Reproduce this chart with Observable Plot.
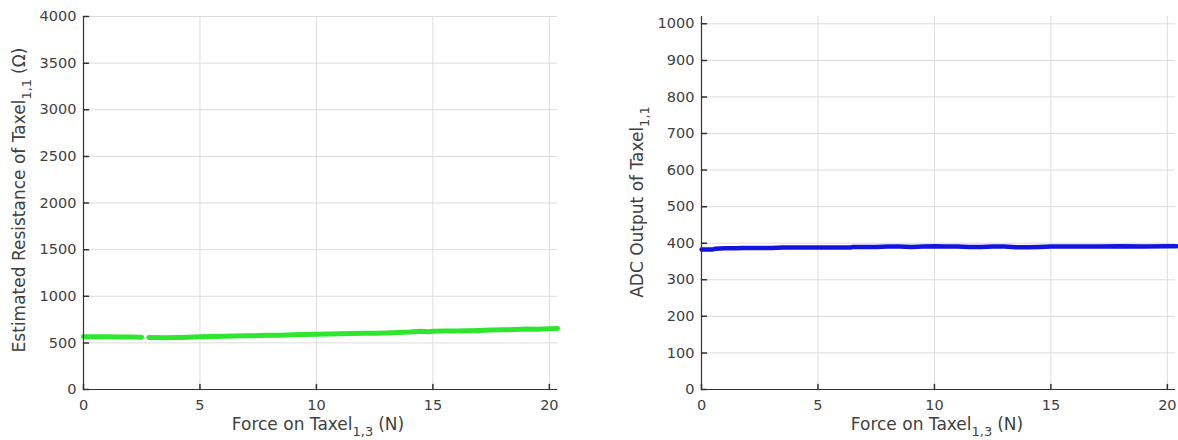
<!DOCTYPE html>
<html>
<head>
<meta charset="utf-8">
<script src="https://cdn.jsdelivr.net/npm/d3@7"></script>
<script src="https://cdn.jsdelivr.net/npm/@observablehq/plot@0.6"></script>
<style>
  body { margin: 0; background: #fff; }
  #wrap { display: flex; width: 1178px; height: 440px; }
  #wrap svg { display: block; }
</style>
</head>
<body>
<div id="wrap"></div>
<script>
// Tick positions
const forceTicks = [0, 5, 10, 15, 20];
const resistanceTicks = [0, 500, 1000, 1500, 2000, 2500, 3000, 3500, 4000];
const adcTicks = [0, 100, 200, 300, 400, 500, 600, 700, 800, 900, 1000];

// Estimated resistance of taxel (1,1) while force is applied on taxel (1,3)
const resistanceForce = [0, 0.5, 1, 1.5, 2, 2.5, 2.65, 2.8, 3.5, 4, 4.5, 5, 5.5, 6, 6.5, 7, 7.5, 8, 8.5, 9, 9.5, 10,
  10.5, 11, 11.5, 12, 12.5, 13, 13.5, 14, 14.5, 14.8, 15, 15.5, 16, 16.5, 17, 17.5, 18, 18.5, 19, 19.5, 20, 20.35];
const resistanceOhm = [567, 566, 565, 563, 562, 560, NaN, 557, 556, 558, 561, 565, 569, 572, 574, 576, 578, 581, 583, 586, 590, 593,
  595, 598, 600, 602, 604, 607, 611, 616, 624, 619, 625, 627, 628, 630, 633, 637, 640, 643, 648, 647, 652, 655];

// Raw ADC reading of taxel (1,1) over the same force sweep
const adcForce = [0, 0.5, 0.6, 1, 1.5, 1.8, 2.5, 3, 3.5, 4, 5, 6, 6.4, 6.5, 7, 7.5, 8, 8.5, 9, 9.5, 10, 10.5, 11, 11.5,
  12, 12.5, 13, 13.5, 14, 14.5, 15, 16, 17, 18, 19, 20, 20.4];
const adcValue = [383, 383, 385, 386, 386, 387, 387, 387, 388, 388, 388, 388, 388, 390, 390, 390, 391, 391, 390, 391, 392, 391, 391, 390,
  390, 391, 391, 389, 389, 390, 391, 391, 391, 392, 391, 392, 392];

const axisColor = "#333";
const textColor = "#404040";
const gridColor = "#dcdcdc";

// Inward-pointing tick: a short stroke drawn from the anchor point
const tickShape = { draw(context, l) { context.moveTo(0, 0); context.lineTo(0, -l); } };

function panel({ width, marginLeft, marginRight, yDomain, yTicks, xs, ys, color, strokeWidth }) {
  const points = xs.map((x, i) => ({ x, y: ys[i] }));
  return Plot.plot({
    width,
    height: 440,
    marginTop: 16,
    marginBottom: 51,
    marginLeft,
    marginRight,
    style: { fontFamily: "DejaVu Sans", fontSize: "14px", color: textColor, background: "white", overflow: "visible" },
    x: { domain: [0, 20.35], ticks: forceTicks, label: null },
    y: { domain: yDomain, ticks: yTicks, label: null },
    marks: [
      Plot.gridX(forceTicks, { stroke: gridColor, strokeOpacity: 1 }),
      Plot.gridY(yTicks, { stroke: gridColor, strokeOpacity: 1 }),
      Plot.line(points, { x: "x", y: "y", stroke: color, strokeWidth, strokeLinecap: "round", strokeLinejoin: "round" }),
      Plot.ruleX([0], { stroke: axisColor, strokeWidth: 1.2 }),
      Plot.ruleY([0], { stroke: axisColor, strokeWidth: 1.2 }),
      Plot.vector(forceTicks, { x: d => d, y: () => 0, length: 5, anchor: "start", shape: tickShape, stroke: axisColor }),
      Plot.vector(yTicks, { x: () => 0, y: d => d, length: 5, rotate: 90, anchor: "start", shape: tickShape, stroke: axisColor }),
      Plot.axisX(forceTicks, { tickSize: 0, tickPadding: 10, tickFormat: d => String(d), fontSize: 14.5, fill: textColor, stroke: null }),
      Plot.axisY(yTicks, { tickSize: 0, tickPadding: 7, tickFormat: d => String(d), fontSize: 14.5, fill: textColor, stroke: null })
    ]
  });
}

// Axis title with a subscript part: [before, subscript, after]
function addLabel(svg, parts, x, y, rotate) {
  const t = d3.select(svg).append("text")
    .attr("transform", `translate(${x},${y})` + (rotate ? " rotate(-90)" : ""))
    .attr("text-anchor", "middle")
    .attr("fill", textColor)
    .style("font-family", "DejaVu Sans")
    .style("font-size", "17px");
  t.append("tspan").text(parts[0]);
  t.append("tspan").attr("dy", 6).style("font-size", "13px").text(parts[1]);
  if (parts[2]) t.append("tspan").attr("dy", -6).attr("dx", 5).text(parts[2]);
}

const wrap = document.getElementById("wrap");

const left = panel({
  width: 590, marginLeft: 83, marginRight: 33,
  yDomain: [0, 4000], yTicks: resistanceTicks,
  xs: resistanceForce, ys: resistanceOhm, color: "#2ee62e", strokeWidth: 5
});
addLabel(left, ["Estimated Resistance of Taxel", "1,1", "(\u03A9)"], 25, 200, true);
addLabel(left, ["Force on Taxel", "1,3", "(N)"], 318, 430, false);
wrap.appendChild(left);

const right = panel({
  width: 588, marginLeft: 111, marginRight: 3,
  yDomain: [0, 1020], yTicks: adcTicks,
  xs: adcForce, ys: adcValue, color: "#1414e0", strokeWidth: 4.5
});
addLabel(right, ["ADC Output of Taxel", "1,1", ""], 53, 202, true);
addLabel(right, ["Force on Taxel", "1,3", "(N)"], 347, 430, false);
wrap.appendChild(right);
</script>
</body>
</html>
